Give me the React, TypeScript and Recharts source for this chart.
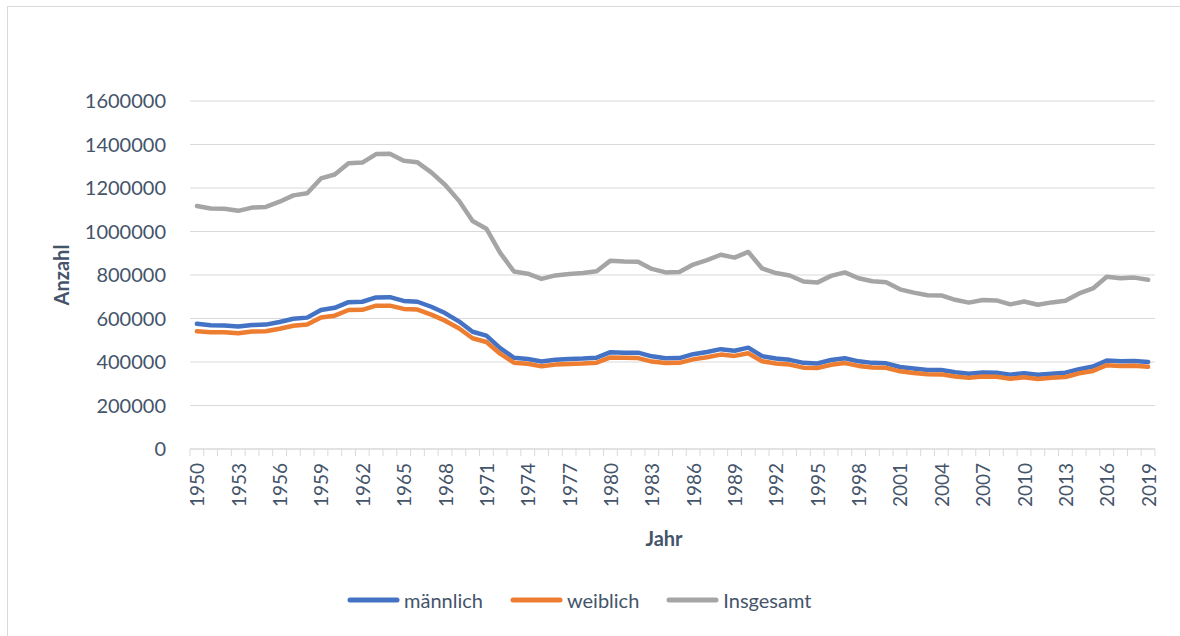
import { CartesianGrid, Line, LineChart, XAxis, YAxis } from "recharts";

const YEARS = [
  "1950", "1951", "1952", "1953", "1954", "1955", "1956", "1957", "1958", "1959",
  "1960", "1961", "1962", "1963", "1964", "1965", "1966", "1967", "1968", "1969",
  "1970", "1971", "1972", "1973", "1974", "1975", "1976", "1977", "1978", "1979",
  "1980", "1981", "1982", "1983", "1984", "1985", "1986", "1987", "1988", "1989",
  "1990", "1991", "1992", "1993", "1994", "1995", "1996", "1997", "1998", "1999",
  "2000", "2001", "2002", "2003", "2004", "2005", "2006", "2007", "2008", "2009",
  "2010", "2011", "2012", "2013", "2014", "2015", "2016", "2017", "2018", "2019",
];

const MALE = [
  576000, 569000, 568000, 563000, 570000, 572000, 584000, 599000, 604000, 639000,
  649000, 675000, 677000, 697000, 698000, 681000, 677000, 654000, 625000, 587000,
  539000, 521000, 464000, 419000, 414000, 402000, 410000, 414000, 416000, 420000,
  445000, 443000, 443000, 426000, 417000, 418000, 436000, 446000, 459000, 452000,
  466000, 427000, 416000, 410000, 396000, 393000, 409000, 417000, 403000, 396000,
  394000, 377000, 370000, 363000, 363000, 353000, 346000, 352000, 351000, 342000,
  348000, 341000, 346000, 351000, 367000, 379000, 407000, 403000, 405000, 400000,
];

const FEMALE = [
  541000, 537000, 537000, 532000, 540000, 541000, 553000, 567000, 572000, 605000,
  613000, 639000, 640000, 659000, 659000, 644000, 641000, 618000, 590000, 555000,
  509000, 492000, 438000, 397000, 392000, 380000, 388000, 391000, 393000, 397000,
  421000, 419000, 418000, 402000, 395000, 396000, 412000, 422000, 434000, 428000,
  440000, 403000, 393000, 388000, 374000, 372000, 387000, 395000, 382000, 375000,
  373000, 357000, 349000, 344000, 343000, 333000, 327000, 333000, 332000, 323000,
  330000, 322000, 328000, 331000, 348000, 359000, 385000, 382000, 383000, 378000,
];

const TOTAL = [
  1117000, 1106000, 1105000, 1095000, 1110000, 1113000, 1137000, 1166000, 1176000, 1244000,
  1262000, 1314000, 1317000, 1356000, 1357000, 1325000, 1318000, 1272000, 1215000, 1142000,
  1048000, 1013000, 902000, 816000, 806000, 782000, 798000, 805000, 809000, 817000,
  866000, 862000, 861000, 828000, 812000, 814000, 848000, 868000, 893000, 880000,
  906000, 830000, 809000, 798000, 770000, 765000, 796000, 812000, 785000, 771000,
  767000, 734000, 719000, 707000, 706000, 686000, 673000, 685000, 683000, 665000,
  678000, 663000, 674000, 682000, 715000, 738000, 792000, 785000, 788000, 778000,
];

const Y_TICKS = [0, 200000, 400000, 600000, 800000, 1000000, 1200000, 1400000, 1600000];

const SERIES = [
  { key: "maennlich", name: "männlich", color: "#4472C4" },
  { key: "weiblich", name: "weiblich", color: "#ED7D31" },
  { key: "insgesamt", name: "Insgesamt", color: "#A5A5A5" },
];

const TEXT = "#44546A";
const GRID = "#D9D9D9";
const FONT = "Lato, 'Open Sans', sans-serif";

const W = 1180;
const H = 636;
const PLOT_LEFT = 190;
const PLOT_RIGHT = 1155;
const PLOT_TOP = 101;
const PLOT_BOTTOM = 449;
const STEP = (PLOT_RIGHT - PLOT_LEFT) / YEARS.length;

const data = YEARS.map((year, i) => ({
  year,
  maennlich: MALE[i],
  weiblich: FEMALE[i],
  insgesamt: TOTAL[i],
}));

// category axis with tick marks between the years, label every 3rd year
function YearTick(props: any) {
  const { x, y, payload, index } = props;
  const left = x - STEP / 2;
  const isLast = index === YEARS.length - 1;
  const ty = y + 14;
  return (
    <g>
      <line x1={left} x2={left} y1={y} y2={y + 7} stroke={GRID} />
      {isLast && (
        <line x1={x + STEP / 2} x2={x + STEP / 2} y1={y} y2={y + 7} stroke={GRID} />
      )}
      {index % 3 === 0 && (
        <text
          x={x}
          y={ty}
          transform={`rotate(-90 ${x} ${ty})`}
          textAnchor="end"
          dominantBaseline="central"
          fill={TEXT}
          fontSize={19}
          fontFamily={FONT}
        >
          {payload.value}
        </text>
      )}
    </g>
  );
}

export default function App() {
  return (
    <div
      style={{
        position: "fixed",
        left: 0,
        top: 0,
        width: W,
        height: H,
        overflow: "hidden",
        background: "#fff",
        fontFamily: FONT,
      }}
    >
      <div
        style={{
          position: "absolute",
          left: 7,
          top: 6,
          width: W + 40,
          height: H + 40,
          border: `1px solid ${GRID}`,
        }}
      />
      <LineChart
        width={W}
        height={H}
        data={data}
        margin={{ top: PLOT_TOP, right: W - PLOT_RIGHT, bottom: 0, left: 0 }}
        style={{ position: "absolute", left: 0, top: 0 }}
      >
        <CartesianGrid vertical={false} stroke={GRID} strokeWidth={1} />
        <XAxis
          dataKey="year"
          height={H - PLOT_BOTTOM}
          interval={0}
          padding={{ left: STEP / 2, right: STEP / 2 }}
          axisLine={{ stroke: GRID }}
          tickLine={false}
          tickSize={0}
          tickMargin={0}
          tick={<YearTick />}
          label={{
            content: () => (
              <text
                x={664}
                y={538}
                textAnchor="middle"
                dominantBaseline="central"
                fill={TEXT}
                fontSize={20}
                fontWeight="bold"
                fontFamily={FONT}
              >
                Jahr
              </text>
            ),
          }}
        />
        <YAxis
          width={PLOT_LEFT}
          domain={[0, 1600000]}
          ticks={Y_TICKS}
          interval={0}
          axisLine={false}
          tickLine={false}
          tickSize={0}
          tickMargin={24}
          tick={{ fontSize: 20, fill: TEXT, fontFamily: FONT }}
          label={{
            content: () => (
              <text
                x={61}
                y={275}
                transform="rotate(-90 61 275)"
                textAnchor="middle"
                dominantBaseline="central"
                fill={TEXT}
                fontSize={20}
                fontWeight="bold"
                fontFamily={FONT}
              >
                Anzahl
              </text>
            ),
          }}
        />
        {SERIES.map((s) => (
          <Line
            key={s.key}
            type="linear"
            dataKey={s.key}
            name={s.name}
            stroke={s.color}
            strokeWidth={4.5}
            strokeLinejoin="round"
            strokeLinecap="round"
            dot={false}
            activeDot={false}
            isAnimationActive={false}
          />
        ))}
      </LineChart>
      <div
        style={{
          position: "absolute",
          left: 347,
          top: 588,
          display: "flex",
          alignItems: "center",
          gap: 27,
          fontSize: 20,
          color: TEXT,
          lineHeight: "24px",
        }}
      >
        {SERIES.map((s) => (
          <div key={s.key} style={{ display: "flex", alignItems: "center", gap: 4 }}>
            <svg width={53} height={10}>
              <line
                x1={3}
                x2={50}
                y1={5}
                y2={5}
                stroke={s.color}
                strokeWidth={5}
                strokeLinecap="round"
              />
            </svg>
            <span>{s.name}</span>
          </div>
        ))}
      </div>
    </div>
  );
}
